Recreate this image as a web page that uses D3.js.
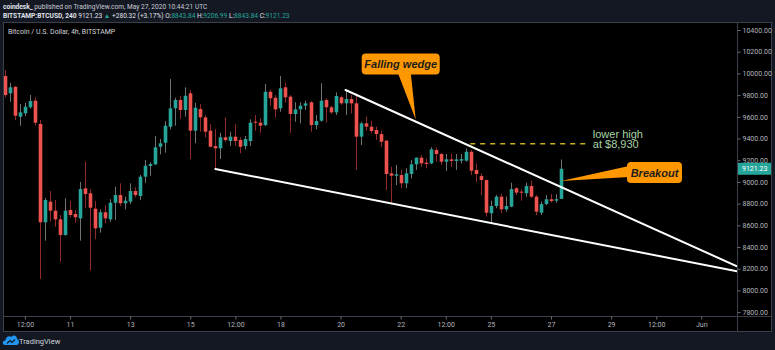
<!DOCTYPE html>
<html>
<head>
<meta charset="utf-8">
<script src="https://cdn.jsdelivr.net/npm/d3@7"></script>
<style>
  html, body { margin: 0; padding: 0; background: #141823; }
  svg { display: block; }
</style>
</head>
<body>
<svg id="chart" width="775" height="350"></svg>
<script>
// BTC/USD 4h candles, Bitstamp, from 2020-05-08 20:00 UTC
const firstBar = "2020-05-08T20:00:00Z";
const barHours = 4;

const opens = [
  9976, 9817, 9877, 9601, 9632, 9688, 9749, 9534, 8628, 8818,
  8735, 8655, 8511, 8741, 8704, 8664, 8941, 8895, 8753, 8578,
  8720, 8655, 8808, 8879, 8803, 8818, 8916, 8870, 9048, 9147,
  9162, 9324, 9361, 9509, 9678, 9755, 9663, 9817, 9472, 9672,
  9595, 9472, 9330, 9310, 9411, 9377, 9417, 9386, 9331, 9377,
  9555, 9546, 9524, 9831, 9776, 9678, 9872, 9786, 9626, 9669,
  9702, 9734, 9524, 9564, 9755, 9688, 9641, 9780, 9724, 9764,
  9724, 9417, 9540, 9509, 9478, 9441, 9380, 9079, 9057, 9064,
  8987, 9073, 9162, 9223, 9177, 9171, 9294, 9257, 9186, 9208,
  9193, 9196, 9196, 9278, 9110, 9054, 9017, 8711, 8778, 8864,
  8747, 8772, 8941, 8910, 8895, 8962, 8864, 8716, 8796, 8840,
  8827, 8843.84
];
const highs = [
  10031, 9914, 9884, 9718, 9730, 9801, 9780, 9570, 8854, 8916,
  8833, 8695, 8849, 8824, 8741, 8999, 9186, 8932, 8824, 8747,
  8787, 8840, 8956, 8987, 8864, 8987, 8950, 9064, 9202, 9181,
  9423, 9395, 9561, 9948, 9776, 9794, 9872, 9847, 9730, 9718,
  9617, 9534, 9485, 9453, 9595, 9463, 9534, 9411, 9423, 9577,
  9617, 9586, 9902, 9853, 9801, 9976, 9914, 9801, 9734, 9734,
  9749, 9746, 9617, 9909, 9770, 9702, 9826, 9794, 9847, 9801,
  9817, 9555, 9601, 9564, 9509, 9472, 9386, 9140, 9156, 9110,
  9125, 9202, 9227, 9248, 9217, 9319, 9319, 9269, 9257, 9257,
  9257, 9257, 9309, 9294, 9171, 9079, 9024, 8827, 8879, 8888,
  8864, 8993, 8950, 8932, 8993, 9011, 8879, 8818, 8879, 8888,
  8888, 9206.99
];
const lows = [
  9780, 9739, 9570, 9518, 9607, 9678, 9518, 8105, 8458, 8633,
  8587, 8264, 8505, 8674, 8624, 8458, 8762, 8182, 8471, 8532,
  8618, 8633, 8649, 8778, 8747, 8796, 8858, 8833, 8993, 9057,
  9156, 9254, 9269, 9485, 9518, 9580, 9601, 9211, 9356, 9463,
  9411, 9319, 9110, 9211, 9370, 9331, 9331, 9264, 9300, 9331,
  9472, 9453, 9515, 9700, 9595, 9647, 9730, 9453, 9555, 9540,
  9663, 9463, 9485, 9555, 9546, 9626, 9617, 9709, 9617, 9632,
  9110, 9340, 9472, 9448, 9386, 9324, 8925, 8803, 8971, 8941,
  8941, 9033, 9110, 9140, 9125, 9165, 9186, 9156, 9100, 9140,
  9110, 9171, 9186, 9064, 9002, 8879, 8679, 8624, 8757, 8711,
  8726, 8766, 8879, 8827, 8864, 8849, 8695, 8695, 8787, 8808,
  8808, 8843.84
];
const closes = [
  9801, 9872, 9610, 9641, 9693, 9746, 9546, 8628, 8833, 8735,
  8655, 8511, 8735, 8695, 8674, 8934, 8888, 8762, 8572, 8720,
  8664, 8808, 8879, 8803, 8827, 8916, 8879, 9048, 9149, 9165,
  9319, 9356, 9518, 9678, 9755, 9663, 9794, 9472, 9684, 9595,
  9463, 9324, 9310, 9411, 9386, 9417, 9377, 9324, 9395, 9546,
  9546, 9518, 9831, 9771, 9669, 9863, 9780, 9626, 9669, 9702,
  9724, 9524, 9561, 9749, 9688, 9641, 9792, 9724, 9764, 9724,
  9417, 9540, 9509, 9469, 9441, 9370, 9073, 9057, 9070, 8987,
  9079, 9162, 9223, 9171, 9165, 9300, 9257, 9186, 9208, 9193,
  9208, 9210, 9278, 9103, 9073, 9017, 8716, 8778, 8864, 8747,
  8778, 8934, 8901, 8901, 8962, 8864, 8726, 8796, 8840, 8824,
  8840.91, 9121.23
];

// price axis ticks
const priceTicks = [7800, 8000, 8200, 8400, 8600, 8800, 9000, 9200, 9400, 9600, 9800, 10000, 10200, 10400];
// time axis ticks and their labels
const timeTicks = [
  "2020-05-09T12:00:00Z", "2020-05-11T00:00:00Z", "2020-05-13T00:00:00Z", "2020-05-15T00:00:00Z",
  "2020-05-16T12:00:00Z", "2020-05-18T00:00:00Z", "2020-05-20T00:00:00Z", "2020-05-22T00:00:00Z",
  "2020-05-23T12:00:00Z", "2020-05-25T00:00:00Z", "2020-05-27T00:00:00Z", "2020-05-29T00:00:00Z",
  "2020-05-30T12:00:00Z", "2020-06-01T00:00:00Z"
];
const timeTickLabels = ["12:00", "11", "13", "15", "12:00", "18", "20", "22", "12:00", "25", "27", "29", "12:00", "Jun"];

// drawn trend lines (time, price)
const wedgeUpper = [["2020-05-20T04:00:00Z", 9847], ["2020-06-02T04:30:00Z", 8222]];
const wedgeLower = [["2020-05-15T20:00:00Z", 9119], ["2020-06-02T04:30:00Z", 8176]];
const lowerHighLine = [["2020-05-24T07:30:00Z", 9352], ["2020-05-28T07:00:00Z", 9352]];
const lastPrice = 9121.23;

const bars = opens.map((o, i) => ({
  t: new Date(Date.parse(firstBar) + i * barHours * 3600e3),
  o, h: highs[i], l: lows[i], c: closes[i]
}));

const svg = d3.select("#chart");
const W = 775, H = 350;
const plot = { left: 3, right: 737, top: 22, bottom: 316 };
const frameRight = 771, frameBottom = 331;

const x = d3.scaleUtc()
  .domain([new Date("2020-05-08T18:30:00Z"), new Date("2020-06-02T04:30:00Z")])
  .range([plot.left, plot.right]);
const y = d3.scaleLinear()
  .domain([7764, 10474])
  .range([plot.bottom, plot.top]);

const UP = "#26a69a", DOWN = "#ef5350";
const UP_WICK = "#6c7474", DOWN_WICK = "#922a2a";
const AXIS_TEXT = "#b2b5be";
const GRID = "#3b3f4a";
const uiFont = "Roboto, 'Noto Sans', sans-serif";

// page background
svg.append("rect").attr("width", W).attr("height", H).attr("fill", "#141823");

// header lines
const hdr = svg.append("g").attr("font-family", uiFont).attr("font-size", 6.6);
const l1 = hdr.append("text").attr("x", 3).attr("y", 8.5).attr("fill", "#c9ccd4");
l1.append("tspan").attr("font-weight", "bold").attr("fill", "#e0e3eb").text("coindesk_");
l1.append("tspan").text(" published on TradingView.com, May 27, 2020 10:44:21 UTC");
const l2 = hdr.append("text").attr("x", 3).attr("y", 17.5).attr("fill", "#e0e3eb");
l2.append("tspan").attr("font-weight", "bold").text("BITSTAMP:BTCUSD, 240 ");
l2.append("tspan").text("9121.23 ");
l2.append("tspan").attr("fill", UP).text("▲");
l2.append("tspan").text(" +280.32 (+3.17%) O:");
l2.append("tspan").attr("fill", UP).text("8843.84");
l2.append("tspan").text(" H:");
l2.append("tspan").attr("fill", UP).text("9206.99");
l2.append("tspan").text(" L:");
l2.append("tspan").attr("fill", UP).text("8843.84");
l2.append("tspan").text(" C:");
l2.append("tspan").attr("fill", UP).text("9121.23");

// chart frame
svg.append("rect")
  .attr("x", plot.left + 0.5).attr("y", plot.top + 0.5)
  .attr("width", frameRight - plot.left).attr("height", frameBottom - plot.top)
  .attr("fill", "#000").attr("stroke", GRID);
svg.append("line")
  .attr("x1", plot.right + 0.5).attr("x2", plot.right + 0.5)
  .attr("y1", plot.top).attr("y2", frameBottom)
  .attr("stroke", GRID);
svg.append("line")
  .attr("x1", plot.left).attr("x2", frameRight)
  .attr("y1", plot.bottom + 0.5).attr("y2", plot.bottom + 0.5)
  .attr("stroke", GRID);

svg.append("defs").append("clipPath").attr("id", "plotClip")
  .append("rect")
  .attr("x", plot.left + 1).attr("y", plot.top + 1)
  .attr("width", plot.right - plot.left - 1).attr("height", plot.bottom - plot.top - 1);

// series title
svg.append("text")
  .attr("x", 8).attr("y", 33.5)
  .attr("font-family", uiFont).attr("font-size", 7)
  .attr("fill", "#d1d4dc")
  .text("Bitcoin / U.S. Dollar, 4h, BITSTAMP");

const gPlot = svg.append("g").attr("clip-path", "url(#plotClip)");

// candles
const bodyW = 3.6;
const candle = gPlot.append("g").selectAll("g").data(bars).join("g");
candle.append("line")
  .attr("x1", d => Math.round(x(d.t)) + 0.5)
  .attr("x2", d => Math.round(x(d.t)) + 0.5)
  .attr("y1", d => y(d.h)).attr("y2", d => y(d.l))
  .attr("stroke", d => d.c >= d.o ? UP_WICK : DOWN_WICK)
  .attr("stroke-width", 1);
candle.append("rect")
  .attr("x", d => Math.round(x(d.t)) + 0.5 - bodyW / 2)
  .attr("width", bodyW)
  .attr("y", d => y(Math.max(d.o, d.c)))
  .attr("height", d => Math.max(1, Math.abs(y(d.o) - y(d.c))))
  .attr("fill", d => d.c >= d.o ? UP : DOWN);

// wedge lines
const pt = p => [x(new Date(p[0])), y(p[1])];
[wedgeUpper, wedgeLower].forEach(seg => {
  gPlot.append("path")
    .attr("d", d3.line()(seg.map(pt)))
    .attr("stroke", "#ffffff").attr("stroke-width", 2)
    .attr("fill", "none").attr("stroke-linecap", "round");
});

// lower-high dashed level
gPlot.append("path")
  .attr("d", d3.line()(lowerHighLine.map(pt)))
  .attr("stroke", "#c8b21e").attr("stroke-width", 1.5)
  .attr("stroke-dasharray", "5,5").attr("fill", "none");

const lhEnd = pt(lowerHighLine[1]);
const lhText = svg.append("text")
  .attr("font-family", "'Liberation Sans', Arial, sans-serif")
  .attr("font-size", 11).attr("fill", "#a9d3a4");
lhText.append("tspan").attr("x", lhEnd[0] + 3).attr("y", lhEnd[1] - 6).text("lower high");
lhText.append("tspan").attr("x", lhEnd[0] + 3).attr("y", lhEnd[1] + 4.5).text("at $8,930");

// callouts: anchor point in (time, price) and the label box relative to it
const callouts = [
  { text: "Falling wedge", at: ["2020-05-22T12:00:00Z", 9575], box: [-54, -66, 78, 21], base: [-18, -5] },
  { text: "Breakout", at: ["2020-05-27T08:00:00Z", 9008], box: [66, -19, 55, 21], base: [4, 15] }
];
const ORANGE = "#ff9800";
callouts.forEach(c => {
  const [ax, ay] = pt(c.at);
  const [bx, by, bw, bh] = c.box;
  const g = svg.append("g");
  let tri;
  if (by + bh < 0) {
    // pointer hangs from the bottom edge of the box
    tri = [[ax, ay], [ax + c.base[0], ay + by + bh - 2], [ax + c.base[1], ay + by + bh - 2]];
  } else {
    // pointer leaves from the left edge of the box
    tri = [[ax, ay], [ax + bx + 2, ay + by + c.base[0]], [ax + bx + 2, ay + by + c.base[1]]];
  }
  g.append("path").attr("d", "M" + tri.join("L") + "Z").attr("fill", ORANGE);
  g.append("rect")
    .attr("x", ax + bx).attr("y", ay + by).attr("width", bw).attr("height", bh)
    .attr("rx", 4).attr("fill", ORANGE);
  g.append("text")
    .attr("x", ax + bx + bw / 2).attr("y", ay + by + bh / 2 + 4)
    .attr("text-anchor", "middle")
    .attr("font-family", "'Liberation Sans', Arial, sans-serif")
    .attr("font-size", 11).attr("font-weight", "bold").attr("font-style", "italic")
    .attr("fill", "#1c1c1c")
    .text(c.text);
});

// price axis
const yAxis = svg.append("g")
  .attr("transform", `translate(${plot.right + 0.5},0)`)
  .call(d3.axisRight(y).tickValues(priceTicks).tickFormat(d3.format(".2f")).tickSize(3).tickPadding(2));
yAxis.select(".domain").remove();
yAxis.selectAll("line").attr("stroke", "#6a6d78");
yAxis.selectAll("text").attr("fill", AXIS_TEXT).attr("font-family", uiFont).attr("font-size", 7);

// last price marker
const lp = svg.append("g").attr("transform", `translate(${plot.right + 1},${y(lastPrice)})`);
lp.append("rect").attr("x", 0).attr("y", -6).attr("width", frameRight - plot.right - 1).attr("height", 12).attr("fill", UP);
lp.append("text").attr("x", 4).attr("y", 2.5)
  .attr("font-family", uiFont).attr("font-size", 7).attr("fill", "#ffffff")
  .text(d3.format(".2f")(lastPrice));

// time axis
const tickDates = timeTicks.map(d => new Date(d));
const xAxis = svg.append("g")
  .attr("transform", `translate(0,${plot.bottom + 0.5})`)
  .call(d3.axisBottom(x).tickValues(tickDates).tickFormat((d, i) => timeTickLabels[i]).tickSize(3).tickPadding(3));
xAxis.select(".domain").remove();
xAxis.selectAll("line").attr("stroke", "#6a6d78");
xAxis.selectAll("text").attr("fill", AXIS_TEXT).attr("font-family", uiFont).attr("font-size", 7);

// TradingView footer mark
const logo = svg.append("g").attr("transform", "translate(3,334)");
logo.append("path")
  .attr("d", "M2,11 C-1,11 -1,6 2.5,6.5 C2.5,3 6,1 8.5,3 C9.5,0.5 14,1 14,5 C16.5,5 17,11 13.5,11 Z")
  .attr("fill", "#2196f3");
logo.append("path")
  .attr("d", "M4,9.5 L7,6.5 L9,8.5 L12,5.5")
  .attr("stroke", "#141823").attr("stroke-width", 1.2).attr("fill", "none");
svg.append("text")
  .attr("x", 19).attr("y", 343.5)
  .attr("font-family", uiFont).attr("font-size", 7.5).attr("fill", "#d1d4dc")
  .text("TradingView");
</script>
</body>
</html>
